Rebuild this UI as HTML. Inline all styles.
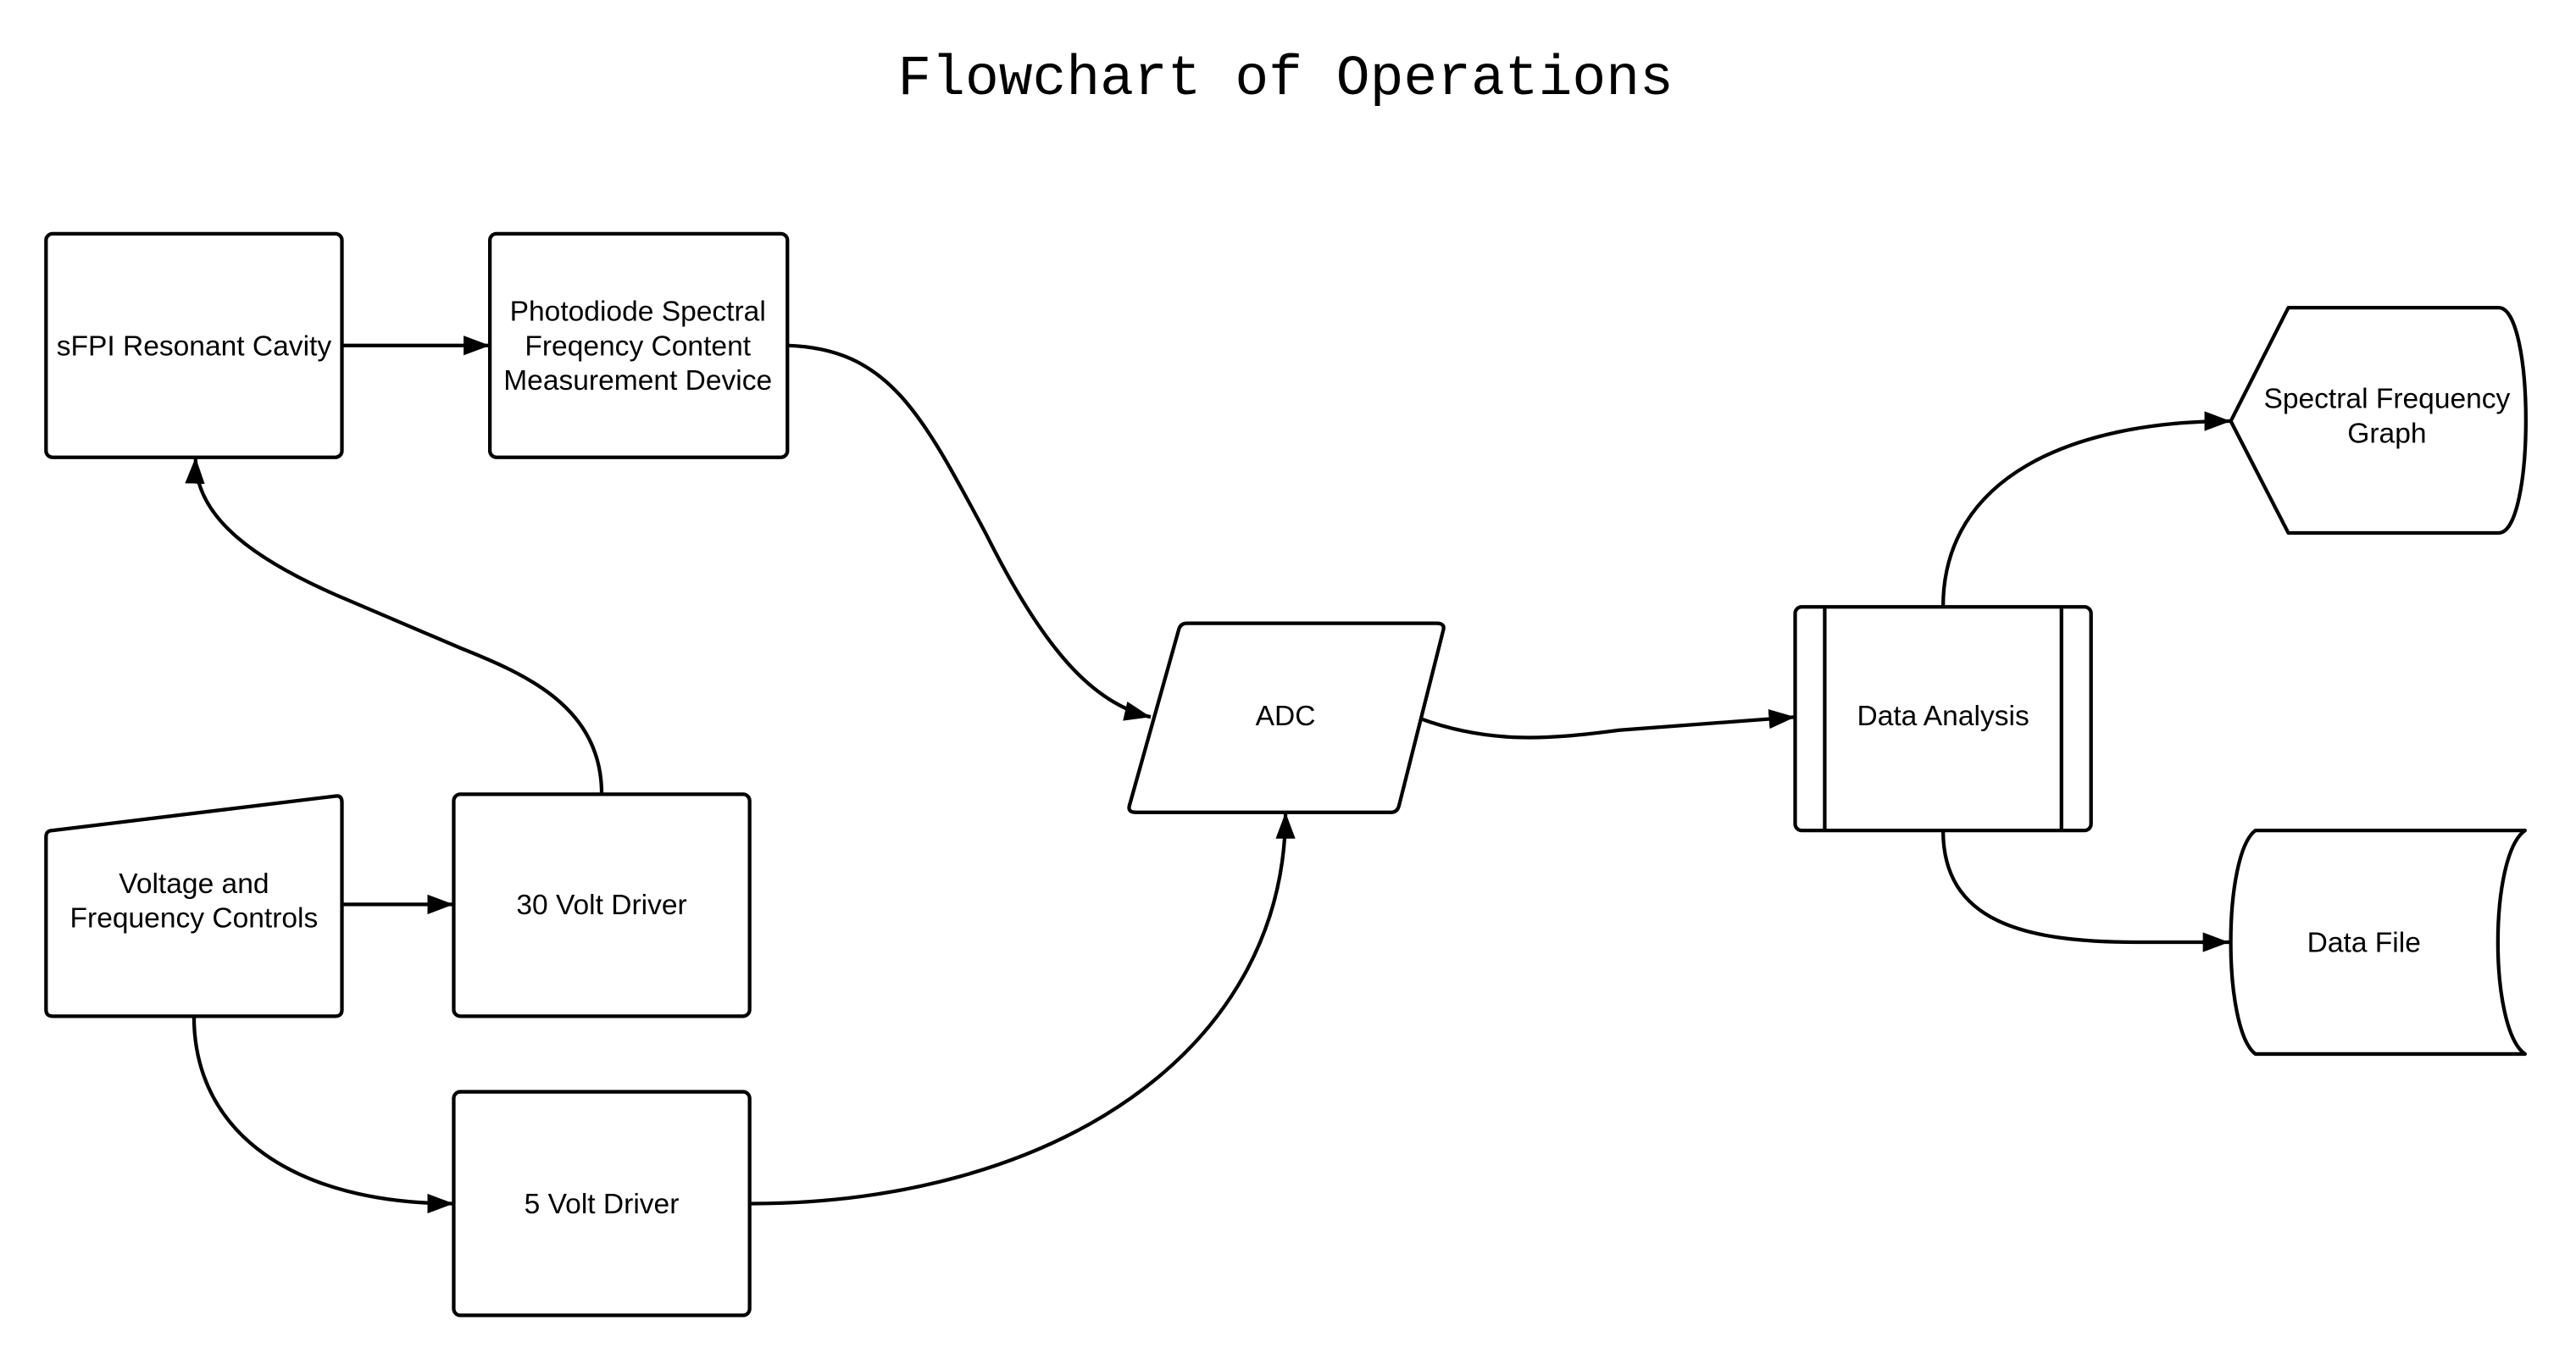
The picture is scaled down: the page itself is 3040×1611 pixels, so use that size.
<!DOCTYPE html>
<html><head><meta charset="utf-8"><style>
html,body{margin:0;padding:0;background:#fff;}
svg{display:block;}
text{font-family:"Liberation Sans",sans-serif;font-size:17.3px;fill:#000;text-anchor:middle;}
</style></head><body>
<svg width="3040" height="1611" viewBox="0 0 1567 830" xmlns="http://www.w3.org/2000/svg">
<defs>
<marker id="a" viewBox="0 0 16 12" refX="16" refY="6" markerWidth="16" markerHeight="12" markerUnits="userSpaceOnUse" orient="auto">
<path d="M0,0 L16,6 L0,12 Z" fill="#000"/>
</marker>
</defs>
<text x="782" y="57" style="font-family:'Liberation Mono',monospace;font-size:34.2px">Flowchart of Operations</text>
<g fill="#fff" stroke="#000" stroke-width="2.2" stroke-linejoin="round">
<rect x="28" y="142" width="180" height="136" rx="4"/>
<rect x="298" y="142" width="181" height="136" rx="4"/>
<path d="M32,505 L205,484 Q208,484 208,488 L208,614 Q208,618 204,618 L32,618 Q28,618 28,614 L28,509 Q28,505 32,505 Z"/>
<rect x="276" y="483" width="180" height="135" rx="4"/>
<rect x="276" y="664" width="180" height="136" rx="4"/>
<path d="M722,379 L874,379 Q879,379 878,383 L851,490 Q850,494 846,494 L691,494 Q686,494 687,490 L717,383 Q718,379 722,379 Z"/>
<rect x="1092" y="369" width="180" height="136" rx="4"/>
<path d="M1392,187 L1520,187 C1542,187 1542,324 1520,324 L1392,324 L1357,256 Z"/>
<path d="M1372,505 L1536,505 C1514,520 1514,626 1536,641 L1372,641 C1352,626 1352,520 1372,505 Z"/>
</g>
<g stroke="#000" stroke-width="2.2" fill="none">
<line x1="1110" y1="369" x2="1110" y2="505"/>
<line x1="1254" y1="369" x2="1254" y2="505"/>
<path d="M208,210 L298,210" marker-end="url(#a)"/>
<path d="M479,210 C540,212 560,250 600,325 C635,395 665,428 700,436" marker-end="url(#a)"/>
<path d="M864,437 C905,452 940,450 985,444 L1092,436" marker-end="url(#a)"/>
<path d="M366,483 C366,430 320,410 280,394 L205,362 C150,338 118,312 119,278" marker-end="url(#a)"/>
<path d="M208,550 L276,550" marker-end="url(#a)"/>
<path d="M118,618 C118,690 180,732 276,732" marker-end="url(#a)"/>
<path d="M456,732 C640,732 782,640 782,494" marker-end="url(#a)"/>
<path d="M1182,369 C1182,290 1260,256 1357,256" marker-end="url(#a)"/>
<path d="M1182,505 C1182,560 1230,573 1300,573 L1356,573" marker-end="url(#a)"/>
</g>
<text x="118" y="216">sFPI Resonant Cavity</text>
<text x="388" y="195">Photodiode Spectral</text>
<text x="388" y="216">Freqency Content</text>
<text x="388" y="237">Measurement Device</text>
<text x="118" y="543">Voltage and</text>
<text x="118" y="564">Frequency Controls</text>
<text x="366" y="556">30 Volt Driver</text>
<text x="366" y="738">5 Volt Driver</text>
<text x="782" y="441">ADC</text>
<text x="1182" y="441">Data Analysis</text>
<text x="1452" y="248">Spectral Frequency</text>
<text x="1452" y="269">Graph</text>
<text x="1438" y="579">Data File</text>
</svg>
</body></html>
